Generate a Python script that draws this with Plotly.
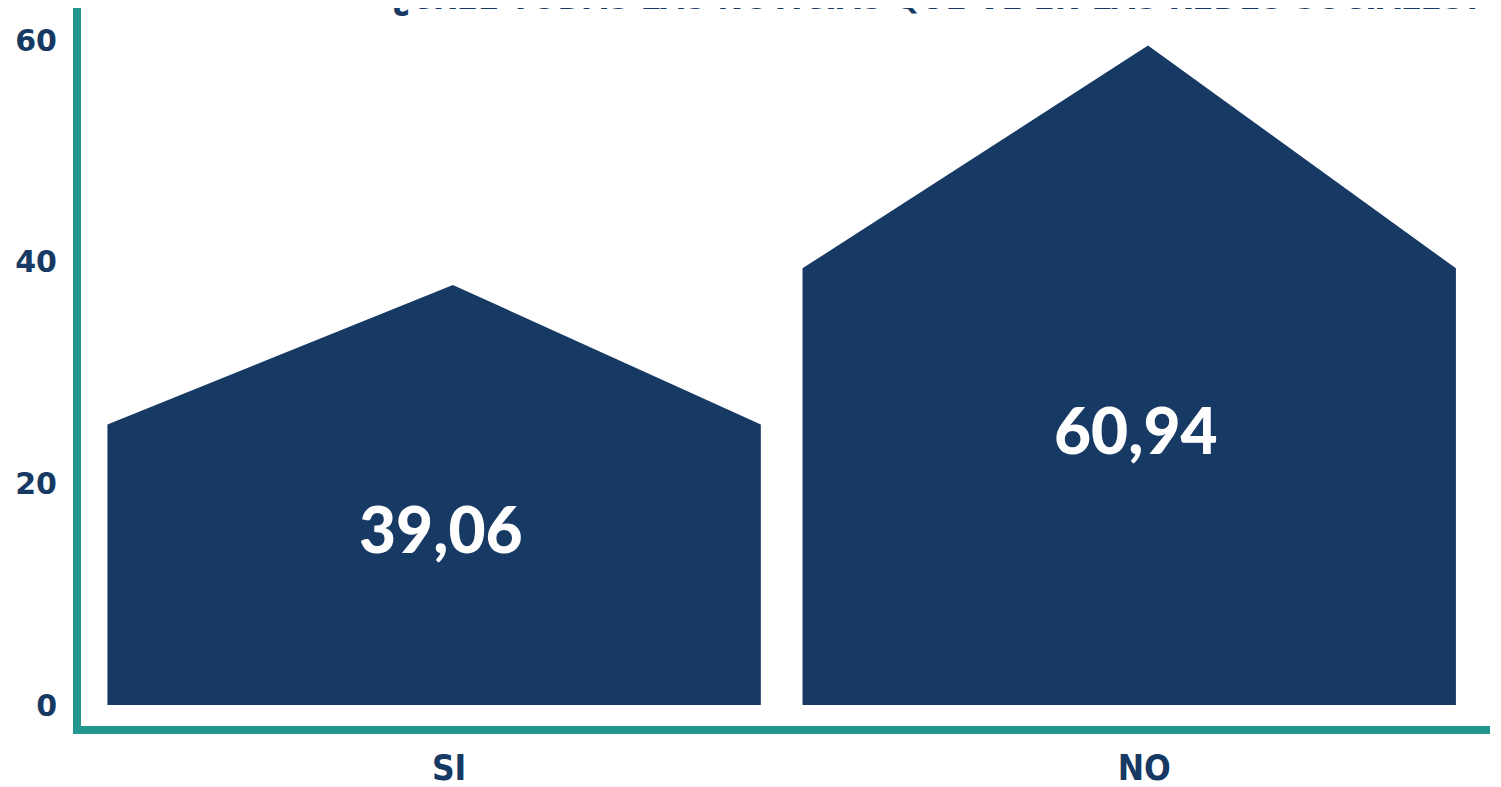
import plotly.graph_objects as go

categories = ["SI", "NO"]
values = [39.06, 60.94]
value_labels = ["39,06", "60,94"]
peak_heights = [37.9, 59.5]      # apex of each house-shaped bar as drawn
shoulder_heights = [25.3, 39.4]  # eaves of each house-shaped bar as drawn
y_ticks = [0, 20, 40, 60]
title_text = "¿CREE TODAS LAS NOTICIAS QUE VE EN LAS REDES SOCIALES?"

NAVY = "#173A64"
TEAL = "#22968F"
HALF = 0.47
PEAK_SHIFT = 0.027
COND = "DejaVu Sans Condensed"

fig = go.Figure()
for i, cat in enumerate(categories):
    xs = [i - HALF, i - HALF, i + PEAK_SHIFT, i + HALF, i + HALF, i - HALF]
    ys = [0, shoulder_heights[i], peak_heights[i], shoulder_heights[i], 0, 0]
    fig.add_trace(go.Scatter(x=xs, y=ys, mode="lines", fill="toself",
                             fillcolor=NAVY, line=dict(width=0, color=NAVY),
                             hoverinfo="skip", showlegend=False))
    fig.add_annotation(x=i + 0.01, y=shoulder_heights[i] * 0.63,
                       text=value_labels[i], showarrow=False,
                       font=dict(family="Lato", size=64, color="white", weight=900))

fig.add_annotation(xref="paper", yref="paper", x=0.6075, y=1.0153,
                   xanchor="center", yanchor="middle", text=title_text, showarrow=False,
                   font=dict(family=COND, size=34.5, color=NAVY, weight="bold"))

fig.update_layout(
    width=1493, height=779,
    margin=dict(l=73, r=11, t=0, b=61, pad=0),
    paper_bgcolor="white", plot_bgcolor="white",
    xaxis=dict(range=[-0.508, 1.519], tickvals=[i + PEAK_SHIFT * 0.8 for i in range(len(categories))],
               ticktext=categories, showgrid=False, zeroline=False, automargin=False,
               showline=True, linecolor=TEAL, linewidth=8, ticks="",
               ticklabelstandoff=4,
               tickfont=dict(family=COND, size=35, color=NAVY, weight="bold")),
    yaxis=dict(range=[-1.895, 62.89], tickvals=y_ticks, showgrid=False, zeroline=False, automargin=False,
               showline=True, linecolor=TEAL, linewidth=8, ticks="",
               ticklabelstandoff=10,
               tickfont=dict(family="DejaVu Sans", size=30, color=NAVY, weight="bold")),
)

fig.write_html("out.html")
